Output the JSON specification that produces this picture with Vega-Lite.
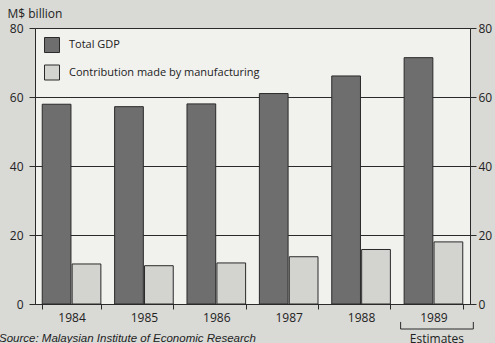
{
  "$schema": "https://vega.github.io/schema/vega-lite/v6.json",
  "width": 435,
  "height": 276,
  "autosize": "none",
  "padding": {"left": 35, "top": 28, "right": 25, "bottom": 39},
  "background": "#d9d9d6",
  "config": {
    "font": "Open Sans",
    "view": {"fill": "#f1f1ee", "stroke": "#2a2a2a", "strokeWidth": 1},
    "axis": {"labelFont": "Open Sans", "labelColor": "#222222", "labelFontSize": 12, "tickColor": "#2a2a2a", "domain": false}
  },
  "title": {
    "text": "Source: Malaysian Institute of Economic Research",
    "orient": "bottom",
    "anchor": "start",
    "frame": "group",
    "dx": -36,
    "offset": -12,
    "font": "Liberation Sans",
    "fontStyle": "italic",
    "fontWeight": "normal",
    "fontSize": 11.5,
    "color": "#222222"
  },
  "datasets": {
    "gdp": [
      {"Year": "1984", "Series": "Total GDP", "Value": 57.9},
      {"Year": "1984", "Series": "Contribution made by manufacturing", "Value": 11.6},
      {"Year": "1985", "Series": "Total GDP", "Value": 57.2},
      {"Year": "1985", "Series": "Contribution made by manufacturing", "Value": 11.1},
      {"Year": "1986", "Series": "Total GDP", "Value": 58.0},
      {"Year": "1986", "Series": "Contribution made by manufacturing", "Value": 11.9},
      {"Year": "1987", "Series": "Total GDP", "Value": 61.0},
      {"Year": "1987", "Series": "Contribution made by manufacturing", "Value": 13.7},
      {"Year": "1988", "Series": "Total GDP", "Value": 66.1},
      {"Year": "1988", "Series": "Contribution made by manufacturing", "Value": 15.8},
      {"Year": "1989", "Series": "Total GDP", "Value": 71.4},
      {"Year": "1989", "Series": "Contribution made by manufacturing", "Value": 18.0}
    ],
    "notes": [
      {"Year": "1989", "Note": "Estimates"}
    ]
  },
  "layer": [
    {
      "data": {"name": "gdp"},
      "mark": {"type": "bar", "stroke": "#2a2a2a", "strokeWidth": 1},
      "encoding": {
        "x": {
          "field": "Year", "type": "nominal",
          "scale": {"paddingInner": 0.19, "paddingOuter": 0.1},
          "axis": {"orient": "bottom", "title": null, "labelAngle": 0, "tickBand": "extent", "tickSize": 5, "labelPadding": 3, "labelFontSize": 12}
        },
        "xOffset": {
          "field": "Series", "type": "nominal",
          "scale": {"domain": ["Total GDP", "Contribution made by manufacturing"], "paddingInner": 0.04}
        },
        "y": {
          "field": "Value", "type": "quantitative",
          "scale": {"domain": [0, 80], "nice": false},
          "axis": {
            "orient": "left", "values": [0, 20, 40, 60, 80],
            "grid": true, "gridColor": "#2a2a2a", "gridWidth": 1, "gridOpacity": 1,
            "tickSize": 6, "labelPadding": 6,
            "title": "M$ billion", "titleAngle": 0, "titleAlign": "left", "titleBaseline": "alphabetic",
            "titleX": -28, "titleY": -11, "titleFont": "Open Sans", "titleFontSize": 12,
            "titleFontWeight": "normal", "titleColor": "#222222"
          }
        },
        "color": {
          "field": "Series", "type": "nominal",
          "scale": {"domain": ["Total GDP", "Contribution made by manufacturing"], "range": ["#6e6e6e", "#d3d3d0"]},
          "legend": {
            "title": null, "orient": "top-left", "offset": 9, "padding": 0,
            "symbolType": "square", "symbolSize": 225, "symbolStrokeColor": "#2a2a2a", "symbolStrokeWidth": 1,
            "symbolOpacity": 1, "labelFont": "Open Sans", "labelFontSize": 11, "labelColor": "#222222",
            "labelOffset": 9, "rowPadding": 7.5, "labelLimit": 0
          }
        }
      }
    },
    {
      "data": {"name": "notes"},
      "mark": {"type": "rule", "color": "#2a2a2a", "strokeWidth": 1},
      "encoding": {
        "x": {"field": "Year", "type": "nominal", "bandPosition": -0.06, "axis": null},
        "x2": {"field": "Year", "bandPosition": 1.18},
        "y": {
          "datum": -7.25, "type": "quantitative",
          "scale": {"domain": [0, 80], "nice": false},
          "axis": {"orient": "right", "values": [0, 20, 40, 60, 80], "grid": false, "tickSize": 6, "labelPadding": 2, "labelAlign": "left", "title": null}
        }
      }
    },
    {
      "data": {"name": "notes"},
      "mark": {"type": "rule", "color": "#2a2a2a", "strokeWidth": 1},
      "encoding": {
        "x": {"field": "Year", "type": "nominal", "bandPosition": -0.06, "axis": null},
        "y": {"datum": -7.25, "type": "quantitative", "scale": {"domain": [0, 80], "nice": false}, "axis": null},
        "y2": {"datum": -5.2}
      }
    },
    {
      "data": {"name": "notes"},
      "mark": {"type": "rule", "color": "#2a2a2a", "strokeWidth": 1},
      "encoding": {
        "x": {"field": "Year", "type": "nominal", "bandPosition": 1.18, "axis": null},
        "y": {"datum": -7.25, "type": "quantitative", "scale": {"domain": [0, 80], "nice": false}, "axis": null},
        "y2": {"datum": -5.2}
      }
    },
    {
      "data": {"name": "notes"},
      "mark": {"type": "text", "font": "Open Sans", "fontSize": 12, "color": "#222222", "baseline": "alphabetic", "align": "center"},
      "encoding": {
        "x": {"field": "Year", "type": "nominal", "bandPosition": 0.56, "axis": null},
        "y": {"datum": -11.3, "type": "quantitative", "scale": {"domain": [0, 80], "nice": false}, "axis": null},
        "text": {"field": "Note"}
      }
    }
  ],
  "resolve": {"scale": {"y": "shared", "x": "shared"}, "axis": {"y": "independent", "x": "independent"}}
}
